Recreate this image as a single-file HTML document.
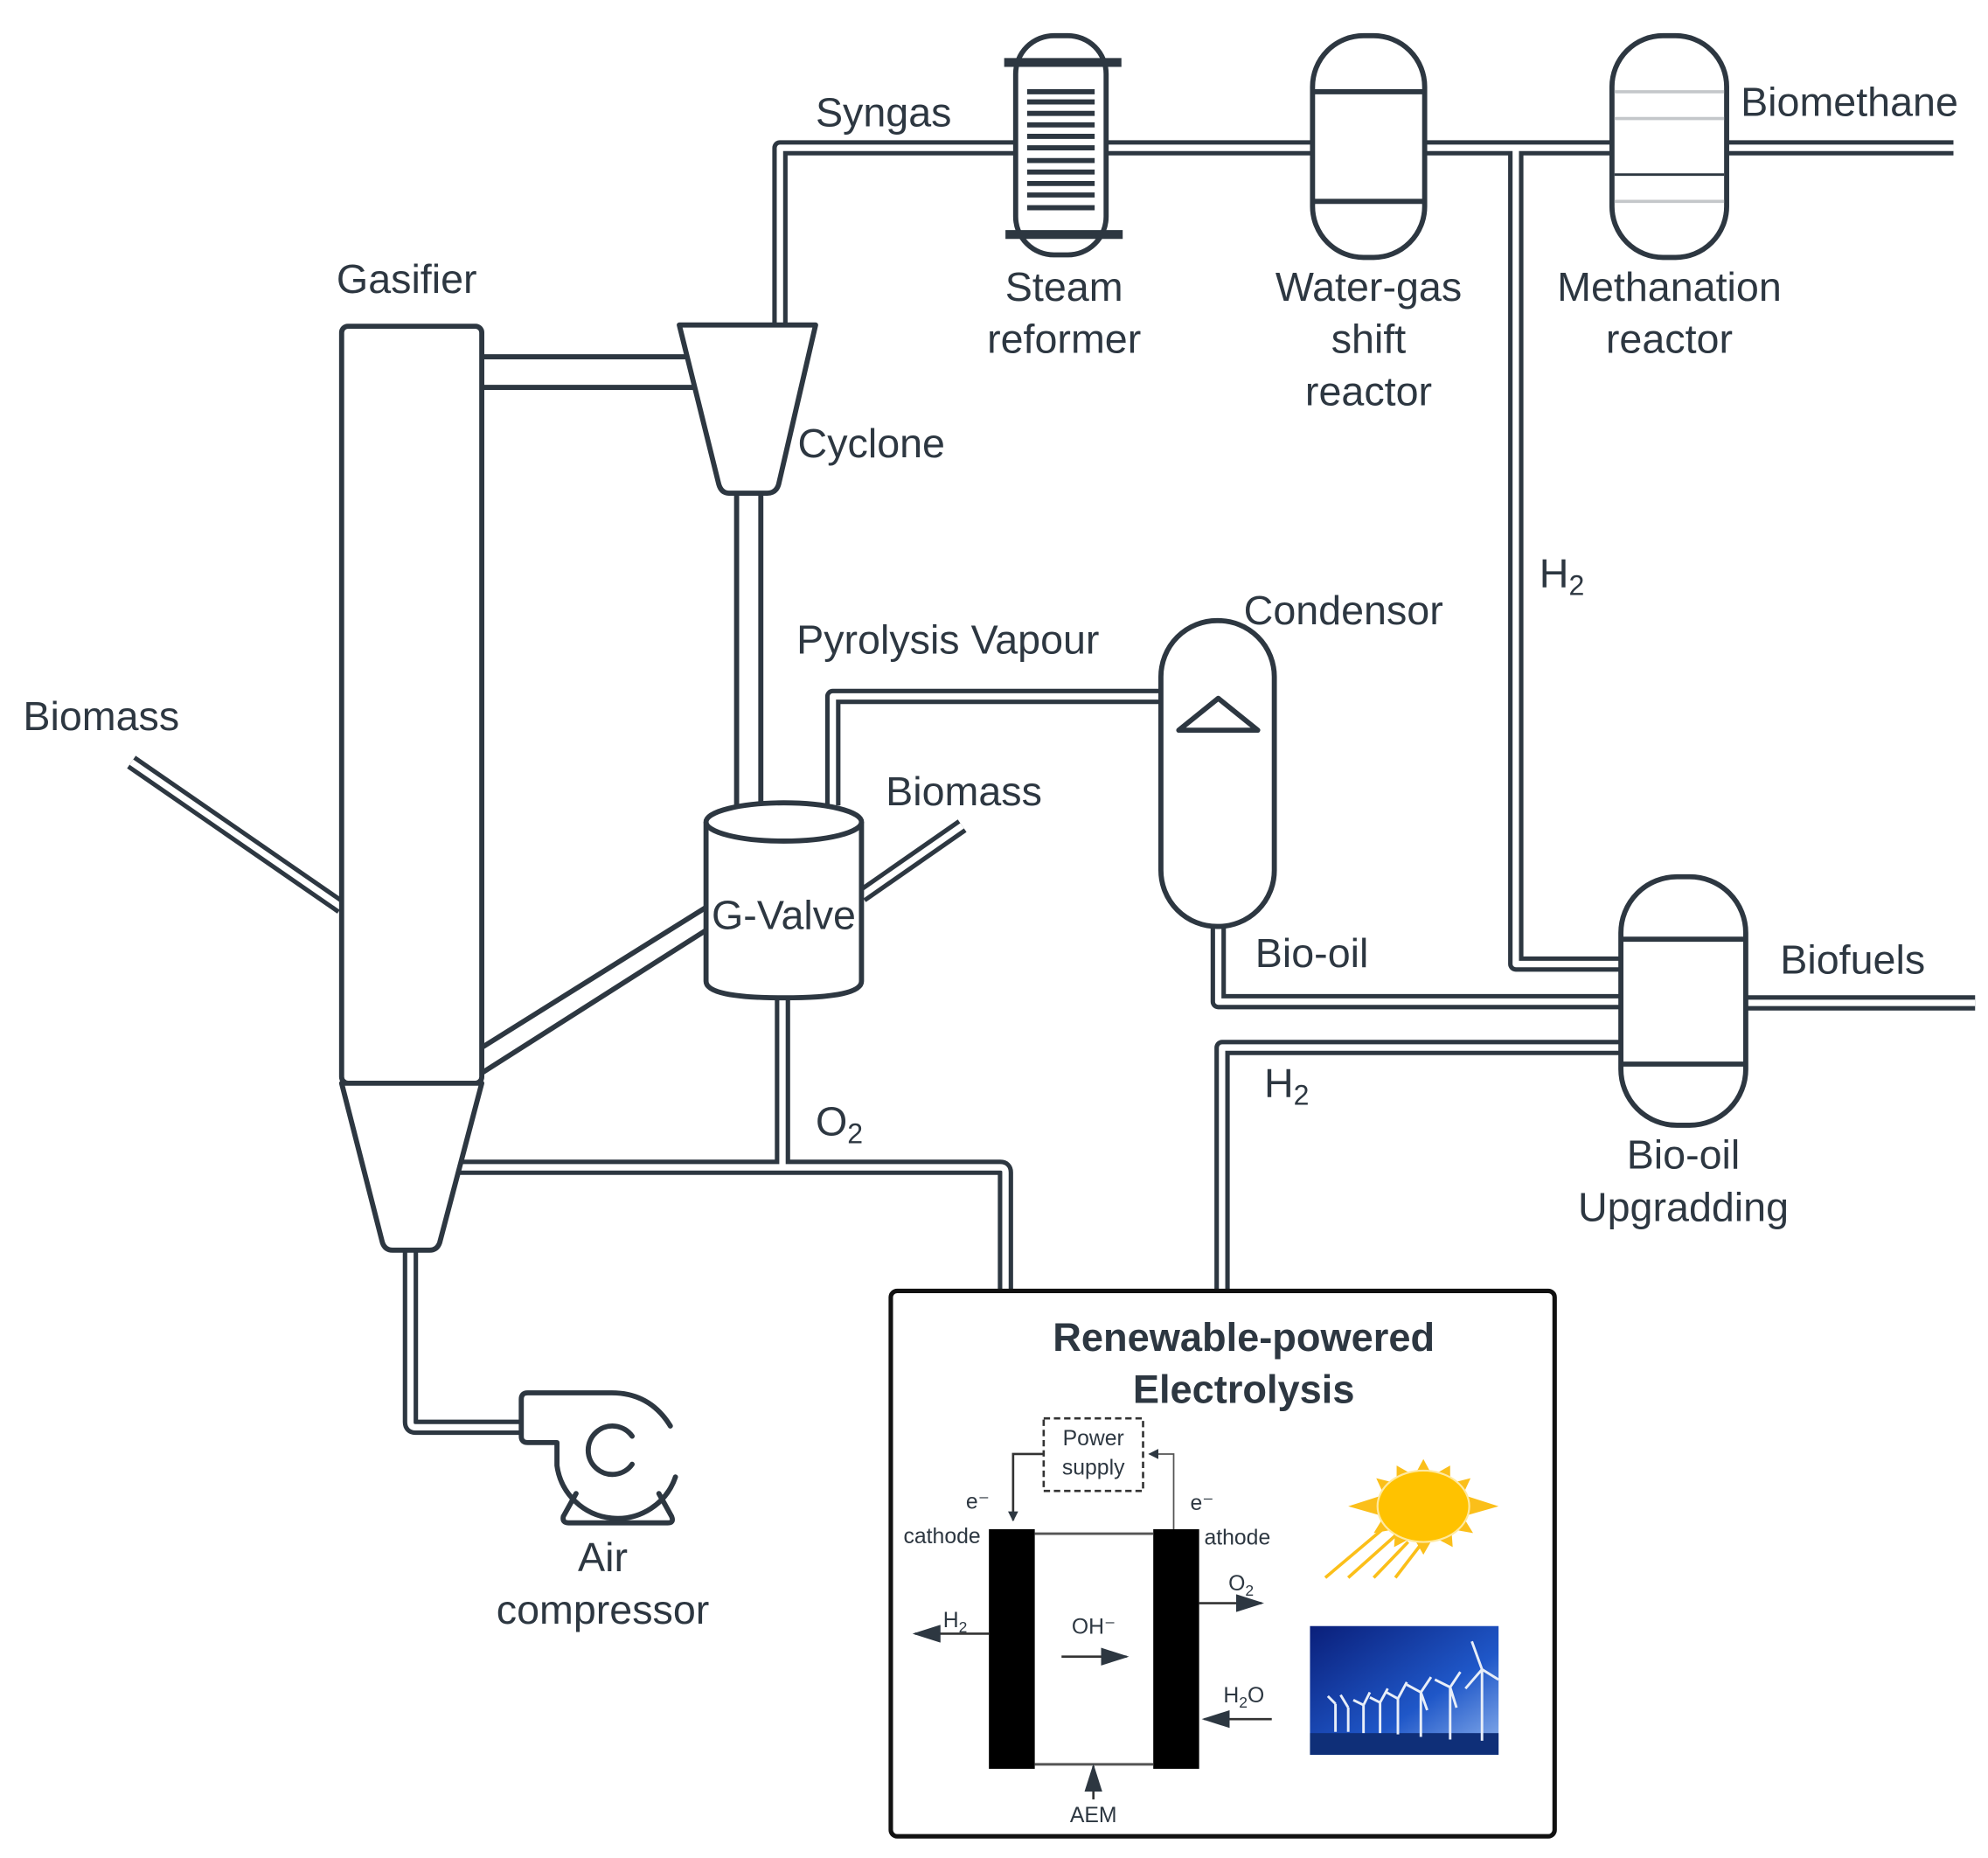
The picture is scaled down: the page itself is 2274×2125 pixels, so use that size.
<!DOCTYPE html>
<html><head><meta charset="utf-8"><style>
html,body{margin:0;padding:0;background:#fff;}
svg{display:block;}
text{font-family:"Liberation Sans",sans-serif;fill:#2d3741;}
</style></head><body>
<svg width="2274" height="2125" viewBox="0 0 1560 1458" xmlns="http://www.w3.org/2000/svg">
<defs>
<linearGradient id="sky" x1="0" y1="0" x2="1" y2="1">
<stop offset="0" stop-color="#0a1f7a"/><stop offset="0.6" stop-color="#1f57c8"/><stop offset="1" stop-color="#8fb4ee"/></linearGradient>
<marker id="ah" markerWidth="8" markerHeight="8" refX="7" refY="4" orient="auto" markerUnits="userSpaceOnUse"><path d="M0,0 L8,4 L0,8 Z" fill="#2d3741"/></marker>
<marker id="ab" markerWidth="22" markerHeight="14" refX="20" refY="7" orient="auto" markerUnits="userSpaceOnUse"><path d="M0,0 L22,7 L0,14 Z" fill="#2d3741"/></marker>
</defs>
<g fill="none" stroke="#2d3741" stroke-linejoin="round">
<g stroke-width="12">
<path d="M612,255 V116 H1533"/>
<path d="M1189.5,116 V756.5 H1272"/>
<path d="M653.5,632 V546.5 H911"/>
<path d="M956,727 V786 H1272"/>
<path d="M959,1013 V822 H1272"/>
<path d="M1370,787 H1550"/>
<path d="M614,783 V916 M360,916 H785 Q789,916 789,920 V1013"/>
<path d="M322,982 V1116 Q322,1120 326,1120 H410"/>
<path d="M676,703 L755,648"/>
<path d="M103,598 L268,712"/>
</g>
<g stroke="#fff" stroke-width="5">
<path d="M612,255 V116 H1533"/>
<path d="M1189.5,116 V756.5 H1272"/>
<path d="M653.5,632 V546.5 H911"/>
<path d="M956,727 V786 H1272"/>
<path d="M959,1013 V822 H1272"/>
<path d="M1370,787 H1550"/>
<path d="M614,783 V916 M360,916 H785 Q789,916 789,920 V1013"/>
<path d="M322,982 V1116 Q322,1120 326,1120 H410"/>
<path d="M676,703 L755,648"/>
<path d="M103,598 L268,712"/>
</g>
<g stroke-width="4">
<path d="M378,280 H540 M378,304 H546"/>
<path d="M578,387 V632 M597,387 V632"/>
<path d="M554,712 L378,822 M554,730 L378,842"/>
</g>
<rect x="268" y="256" width="110" height="594" rx="5" stroke-width="4" fill="#fff"/>
<path d="M268,850 H378 L345,975 Q343,981 337,981 H308 Q302,981 300,975 Z" stroke-width="4" fill="#fff"/>
<path d="M533,255 H640 L611,380 Q609,387 602,387 H572 Q566,387 564,380 Z" stroke-width="4" fill="#fff"/>
<path d="M554,645 V770 Q554,783 615,783 Q676,783 676,770 V645" stroke-width="4" fill="#fff"/>
<ellipse cx="615" cy="645" rx="61" ry="15" stroke-width="4" fill="#fff"/>
<rect x="797" y="28" width="71" height="172" rx="30" stroke-width="4" fill="#fff"/>
<g stroke-width="7"><path d="M788,49 H880 M789,184 H881"/></g>
<g stroke-width="4"><path d="M806,72 H859 M806,80 H859 M806,89 H859 M806,98 H859 M806,107 H859 M806,116 H859 M806,126 H859 M806,135 H859 M806,144 H859 M806,153 H859 M806,163 H859"/></g>
<rect x="1030" y="28" width="88" height="174" rx="40" stroke-width="4" fill="#fff"/>
<path d="M1030,72 H1118 M1030,158 H1118" stroke-width="4"/>
<rect x="1265" y="28" width="90" height="174" rx="40" stroke-width="4" fill="#fff"/>
<path d="M1267,72 H1353 M1267,93 H1353 M1267,158 H1353" stroke="#c4c7ca" stroke-width="2.5"/>
<path d="M1267,137 H1353" stroke-width="2"/>
<rect x="911" y="487" width="89" height="240" rx="44" stroke-width="4" fill="#fff"/>
<path d="M925,573 H987 L956,548 Z" stroke-width="4"/>
<rect x="1272" y="688" width="98" height="195" rx="44" stroke-width="4" fill="#fff"/>
<path d="M1272,737 H1370 M1272,835 H1370" stroke-width="4"/>
<g stroke-width="4" stroke-linecap="round">
<path d="M526,1119 Q510,1093 480,1093 H414 Q409,1093 409,1098 V1127 Q409,1132 414,1132 H437 V1150 A48,48 0 0 0 530,1159"/>
<path d="M496,1127 A19,19 0 1 0 496,1149"/>
<path d="M452,1172 L442,1190 Q441,1195 446,1195 H524 Q529,1195 527,1190 L517,1172"/>
</g>
<rect x="699" y="1013" width="521" height="428" rx="5" stroke="#111" stroke-width="3.5" fill="#fff"/>
</g>
<g>
<rect x="776" y="1200" width="36" height="188" fill="#000"/>
<rect x="905" y="1200" width="36" height="188" fill="#000"/>
<path d="M812,1203.5 H905 M812,1384.5 H905" stroke="#555" stroke-width="2"/>
<rect x="819" y="1113" width="78" height="57" fill="none" stroke="#333" stroke-width="1.8" stroke-dasharray="5,3"/>
<text x="858" y="1134" font-size="17" text-anchor="middle" fill="#444">Power</text>
<text x="858" y="1157" font-size="17" text-anchor="middle" fill="#444">supply</text>
<path d="M819,1141 H795 V1193" fill="none" stroke="#333" stroke-width="1.8" marker-end="url(#ah)"/>
<path d="M921,1200 V1141 H902" fill="none" stroke="#555" stroke-width="1.2" marker-end="url(#ah)"/>
<path d="M941,1258 H990" stroke="#333" stroke-width="1.8" marker-end="url(#ab)"/>
<path d="M776,1282 H718" stroke="#333" stroke-width="1.8" marker-end="url(#ab)"/>
<path d="M833,1300 H884" stroke="#333" stroke-width="1.8" marker-end="url(#ab)"/>
<path d="M998,1349 H945" stroke="#333" stroke-width="1.8" marker-end="url(#ab)"/>
<path d="M858,1412 V1386" stroke="#333" stroke-width="1.8" marker-end="url(#ab)"/>
<g font-size="17" fill="#444">
<text x="758" y="1184">e⁻</text>
<text x="934" y="1185">e⁻</text>
<text x="709" y="1211">cathode</text>
<text x="945" y="1212">athode</text>
<text x="964" y="1248">O<tspan font-size="12" dy="4">2</tspan></text>
<text x="740" y="1277">H<tspan font-size="12" dy="4">2</tspan></text>
<text x="841" y="1282">OH⁻</text>
<text x="960" y="1336">H<tspan font-size="12" dy="4">2</tspan><tspan dy="-4">O</tspan></text>
<text x="858" y="1430" text-anchor="middle">AEM</text>
</g>
<g fill="#fbbf1a">
<polygon points="1117,1145 1124,1158 1138,1150 1138,1164 1154,1160 1148,1173 1176,1182 1148,1190 1156,1203 1139,1200 1140,1214 1125,1206 1117,1220 1109,1206 1094,1214 1095,1200 1078,1203 1086,1190 1058,1182 1086,1173 1080,1160 1096,1164 1096,1150 1110,1158"/>
<ellipse cx="1117" cy="1182" rx="36" ry="28" fill="#ffc200" stroke="#ffe9a0" stroke-width="1.5"/>
</g>
<g stroke="#fbbf1a" stroke-width="2.5">
<path d="M1085,1200 L1040,1238 M1095,1205 L1058,1238 M1105,1210 L1078,1238 M1115,1212 L1095,1238"/>
</g>
<rect x="1028" y="1276" width="148" height="101" fill="url(#sky)"/>
<rect x="1028" y="1360" width="148" height="17" fill="#0f2f78"/>
<g stroke="#e8eef8" stroke-width="2">
<path d="M1163,1310 V1366 M1163,1310 L1155,1288 M1163,1310 L1176,1318 M1163,1310 L1150,1325"/>
<path d="M1138,1324 V1365 M1138,1324 L1146,1312 M1138,1324 L1126,1318 M1138,1324 L1143,1340"/>
<path d="M1115,1328 V1363 M1115,1328 L1123,1316 M1115,1328 L1104,1322 M1115,1328 L1120,1342"/>
<path d="M1097,1333 V1361 M1097,1333 L1104,1320 M1097,1333 L1088,1328"/>
<path d="M1083,1336 V1360 M1083,1336 L1089,1325 M1083,1336 L1075,1332"/>
<path d="M1070,1338 V1360 M1070,1338 L1075,1328 M1062,1334 L1070,1338"/>
<path d="M1058,1340 V1359 M1048,1337 V1359 M1058,1340 L1052,1330 M1048,1337 L1042,1331"/>
</g>
</g>
<g font-size="32">
<text x="264" y="230">Gasifier</text>
<text x="640" y="99">Syngas</text>
<text x="626" y="359">Cyclone</text>
<text x="835" y="236" text-anchor="middle">Steam</text>
<text x="835" y="277" text-anchor="middle">reformer</text>
<text x="1074" y="236" text-anchor="middle">Water-gas</text>
<text x="1074" y="277" text-anchor="middle">shift</text>
<text x="1074" y="318" text-anchor="middle">reactor</text>
<text x="1310" y="236" text-anchor="middle">Methanation</text>
<text x="1310" y="277" text-anchor="middle">reactor</text>
<text x="1366" y="91">Biomethane</text>
<text x="1208" y="461">H<tspan font-size="22" dy="6">2</tspan></text>
<text x="976" y="490">Condensor</text>
<text x="625" y="513">Pyrolysis Vapour</text>
<text x="18" y="573">Biomass</text>
<text x="695" y="632">Biomass</text>
<text x="615" y="729" text-anchor="middle">G-Valve</text>
<text x="985" y="759">Bio-oil</text>
<text x="1397" y="764">Biofuels</text>
<text x="992" y="861">H<tspan font-size="22" dy="6">2</tspan></text>
<text x="640" y="891">O<tspan font-size="22" dy="6">2</tspan></text>
<text x="1321" y="917" text-anchor="middle">Bio-oil</text>
<text x="1321" y="958" text-anchor="middle">Upgradding</text>
<text x="473" y="1233" text-anchor="middle">Air</text>
<text x="473" y="1274" text-anchor="middle">compressor</text>
<text x="976" y="1060" text-anchor="middle" font-weight="bold" font-size="31">Renewable-powered</text>
<text x="976" y="1101" text-anchor="middle" font-weight="bold" font-size="31">Electrolysis</text>
</g>
</svg>
</body></html>
